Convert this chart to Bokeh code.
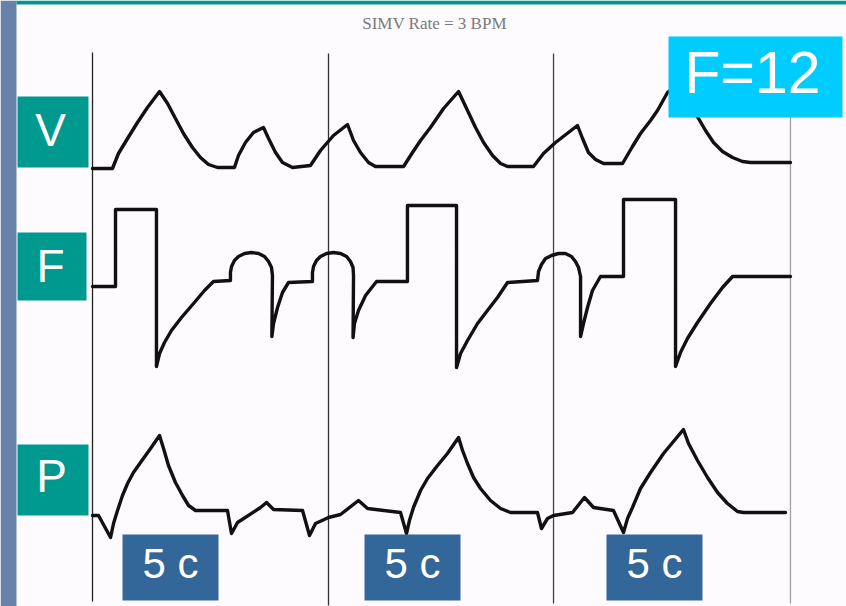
from bokeh.plotting import figure
from bokeh.models import Range1d
from bokeh.core.properties import value
from bokeh.embed import file_html
from bokeh.resources import INLINE

# --- Ventilator waveforms, SIMV with spontaneous breaths between mandatory ones ---
title_text = "SIMV Rate = 3 BPM"
trace_names = ["V", "F", "P"]
rate_label = "F=12"
interval_label = "5 c"

# mandatory-breath markers (s)
breath_marks_s = [0.0, 20.0, 39.07, 59.15]

# volume (mL) vs time (s)
vol_t = [0, 1.69, 2.2, 2.97, 3.81, 4.66, 5.68,
         6.36, 7.03, 7.71, 8.47, 9.15, 9.83, 10.59, 12.03,
         12.37, 12.96, 13.64, 14.49, 14.92, 15.51, 16.1, 16.95, 18.47,
         19.32, 20.42, 21.61, 22.12, 22.71, 23.39, 23.98, 26.36,
         27.12, 27.8, 28.64, 29.75, 31.02,
         31.78, 32.46, 33.14, 33.9, 34.58, 35.17, 37.37,
         38.22, 39.24, 41.1, 41.53, 42.03, 42.63, 43.31, 44.92,
         45.76, 46.44, 47.29, 47.88, 48.73, 49.58,
         51.36, 51.95, 52.63, 53.39, 54.24, 55.08, 55.76, 59.15]
vol_ml = [-5, -5, 70, 145, 225, 300, 380,
          320, 245, 170, 100, 50, 15, 0, 0,
          60, 125, 175, 200, 145, 75, 25, 0, 10,
          85, 160, 215, 135, 75, 25, 5, 5,
          75, 135, 200, 295, 380,
          285, 200, 125, 60, 20, 5, 5,
          70, 125, 210, 145, 75, 40, 20, 20,
          105, 170, 235, 285, 375, 410,
          245, 185, 125, 80, 50, 30, 25, 25]

# flow (L/min) vs time (s)
flow_t = [0, 1.95, 1.95, 5.42, 5.42, 5.68, 6.1, 6.69, 7.54, 8.56, 9.49, 10.25, 11.69,
          11.69, 11.78, 12.03, 12.37, 12.88, 13.47, 14.07, 14.58, 14.92, 15.17, 15.25,
          15.2, 15.34, 15.68, 16.1, 16.61, 18.64,
          18.64, 18.73, 18.98, 19.32, 19.83, 20.42, 21.02, 21.53, 21.86, 22.08, 22.12,
          22.08, 22.2, 22.54, 23.14, 24.07, 26.69,
          26.69, 30.85, 30.85, 31.19, 31.78, 32.63, 33.47, 34.32, 35.17, 37.71,
          37.8, 38.05, 38.39, 38.9, 39.49, 40.08, 40.59, 40.93, 41.19, 41.36,
          41.36, 41.61, 41.95, 42.37, 43.05, 45.0,
          45.0, 49.41, 49.41, 49.83, 50.42, 51.27, 52.37, 53.39, 54.24, 59.15]
flow_lpm = [-3, -3, 74, 74, -83, -70, -59, -47, -34, -20, -7, 2, 3,
            11, 17, 23, 27, 30, 31, 30, 27, 22, 16, 8,
            -53, -40, -24, -9, 1, 2,
            11, 17, 23, 27, 30, 31, 30, 27, 22, 16, 8,
            -54, -40, -27, -12, 2, 2,
            78, 78, -84, -70, -57, -40, -27, -14, 1, 3,
            12, 19, 25, 28, 30, 30, 27, 22, 16, 7,
            -53, -40, -24, -7, 7, 7,
            84, 84, -83, -69, -55, -39, -20, -4, 7, 7]

# airway pressure (cmH2O) vs time (s)
paw_t = [0, 0.51, 1.53, 1.78, 2.12, 2.54, 2.97, 3.47, 4.07, 4.92, 5.68,
         6.02, 6.44, 7.03, 7.63, 8.14, 8.73, 11.44,
         11.78, 12.29, 14.24, 14.75, 15.34, 17.8,
         18.39, 18.9, 20.0, 21.02, 22.54, 23.31, 26.1,
         26.61, 26.86, 27.2, 27.8, 28.39, 29.24, 30.08, 31.02,
         31.36, 31.78, 32.29, 32.88, 33.73, 34.58, 35.42, 37.71,
         38.05, 38.56, 39.07, 40.68, 41.69, 42.46, 44.15,
         45.0, 45.34, 45.76, 46.44, 47.29, 48.39, 50.08,
         50.51, 51.27, 52.12, 52.97, 53.81, 54.66, 55.17, 58.73]
paw_cmh2o = [-0.75, -0.75, -6.25, -2.75, 0.5, 4.25, 7.25, 10, 12.5, 16, 19.25,
             16, 11.75, 7.5, 4.25, 1.75, 0.5, 0.5,
             -5.25, -2.5, 1.25, 2.5, 0.75, 0.5,
             -5.75, -2.75, -1.25, -0.5, 3, 1, 0,
             -5.25, -2, 1.25, 5.5, 8.5, 11.75, 14.75, 18.75,
             15.5, 12.25, 8.75, 6, 3, 1, 0, 0,
             -4, -1.5, -0.75, 0, 3.75, 1.25, 0.5,
             -5, -1.5, 1.25, 6, 10, 14.75, 20.75,
             17.25, 13, 8.75, 5, 2.25, 0.25, 0, 0]

PAGE = "#fdfbfd"
TEAL = "#00998f"
INK = "#111111"

p = figure(width=846, height=606,
           x_range=Range1d(0, 846), y_range=Range1d(606, 0),
           output_backend="svg", toolbar_location=None, tools="",
           min_border=0, x_axis_location=None, y_axis_location=None)
p.grid.visible = False
p.outline_line_color = None
p.background_fill_color = PAGE
p.border_fill_color = PAGE

# shared time axis, one value range per waveform band
p.extra_x_ranges = {"time": Range1d(-7.797, 63.898)}
p.extra_y_ranges = {
    "volume": Range1d(-2195, 835),
    "flow": Range1d(-323, 283),
    "pressure": Range1d(-23.5, 128),
}

# slide frame: side strip and top rule
p.quad(left=0, right=16, top=0, bottom=606, fill_color="#6883a7", line_color=None)
p.quad(left=16, right=846, top=0, bottom=4, fill_color="#00968f", line_color=None)

# heading
p.text(x=[434], y=[23], text=[title_text], text_font=value("Liberation Serif"),
       text_font_size="17px", text_color="#7a7a7a", text_align="center",
       text_baseline="middle")

# breath markers
p.segment(x0=breath_marks_s, y0=[52, 53, 53, 60], x1=breath_marks_s, y1=[601, 605, 603, 603],
          x_range_name="time", line_color=["#222222", "#333333", "#444444", "#a0a0a0"],
          line_width=1.3)

# waveforms
wave = dict(line_color=INK, line_width=3.4, line_join="round", line_cap="round")
p.line(vol_t, vol_ml, x_range_name="time", y_range_name="volume", **wave)
p.line(flow_t, flow_lpm, x_range_name="time", y_range_name="flow", **wave)
p.line(paw_t, paw_cmh2o, x_range_name="time", y_range_name="pressure", **wave)

# channel tags
p.quad(left=[17, 17, 17], right=[88, 86, 88], top=[96, 232, 444], bottom=[167, 300, 515],
       fill_color=TEAL, line_color=None)
p.text(x=[50, 50, 51], y=[129, 265, 475], text=trace_names, text_font=value("Liberation Sans"),
       text_font_size="46px", text_color="white", text_align="center",
       text_baseline="middle")

# breathing-rate badge
p.quad(left=668, right=842, top=36, bottom=117, fill_color="#00ccff", line_color=None)
p.text(x=[752], y=[72], text=[rate_label], text_font=value("Liberation Sans"),
       text_font_size="59px", text_color="white", text_align="center",
       text_baseline="middle")

# interval badges
p.quad(left=[122, 364, 606], right=[218, 460, 702], top=[534, 534, 534],
       bottom=[600, 600, 600], fill_color="#336699", line_color=None)
p.text(x=[170, 412, 654], y=[563, 563, 563], text=[interval_label] * 3,
       text_font=value("Liberation Sans"), text_font_size="42px", text_color="white",
       text_align="center", text_baseline="middle")

open("out.html", "w").write(file_html(p, INLINE))
